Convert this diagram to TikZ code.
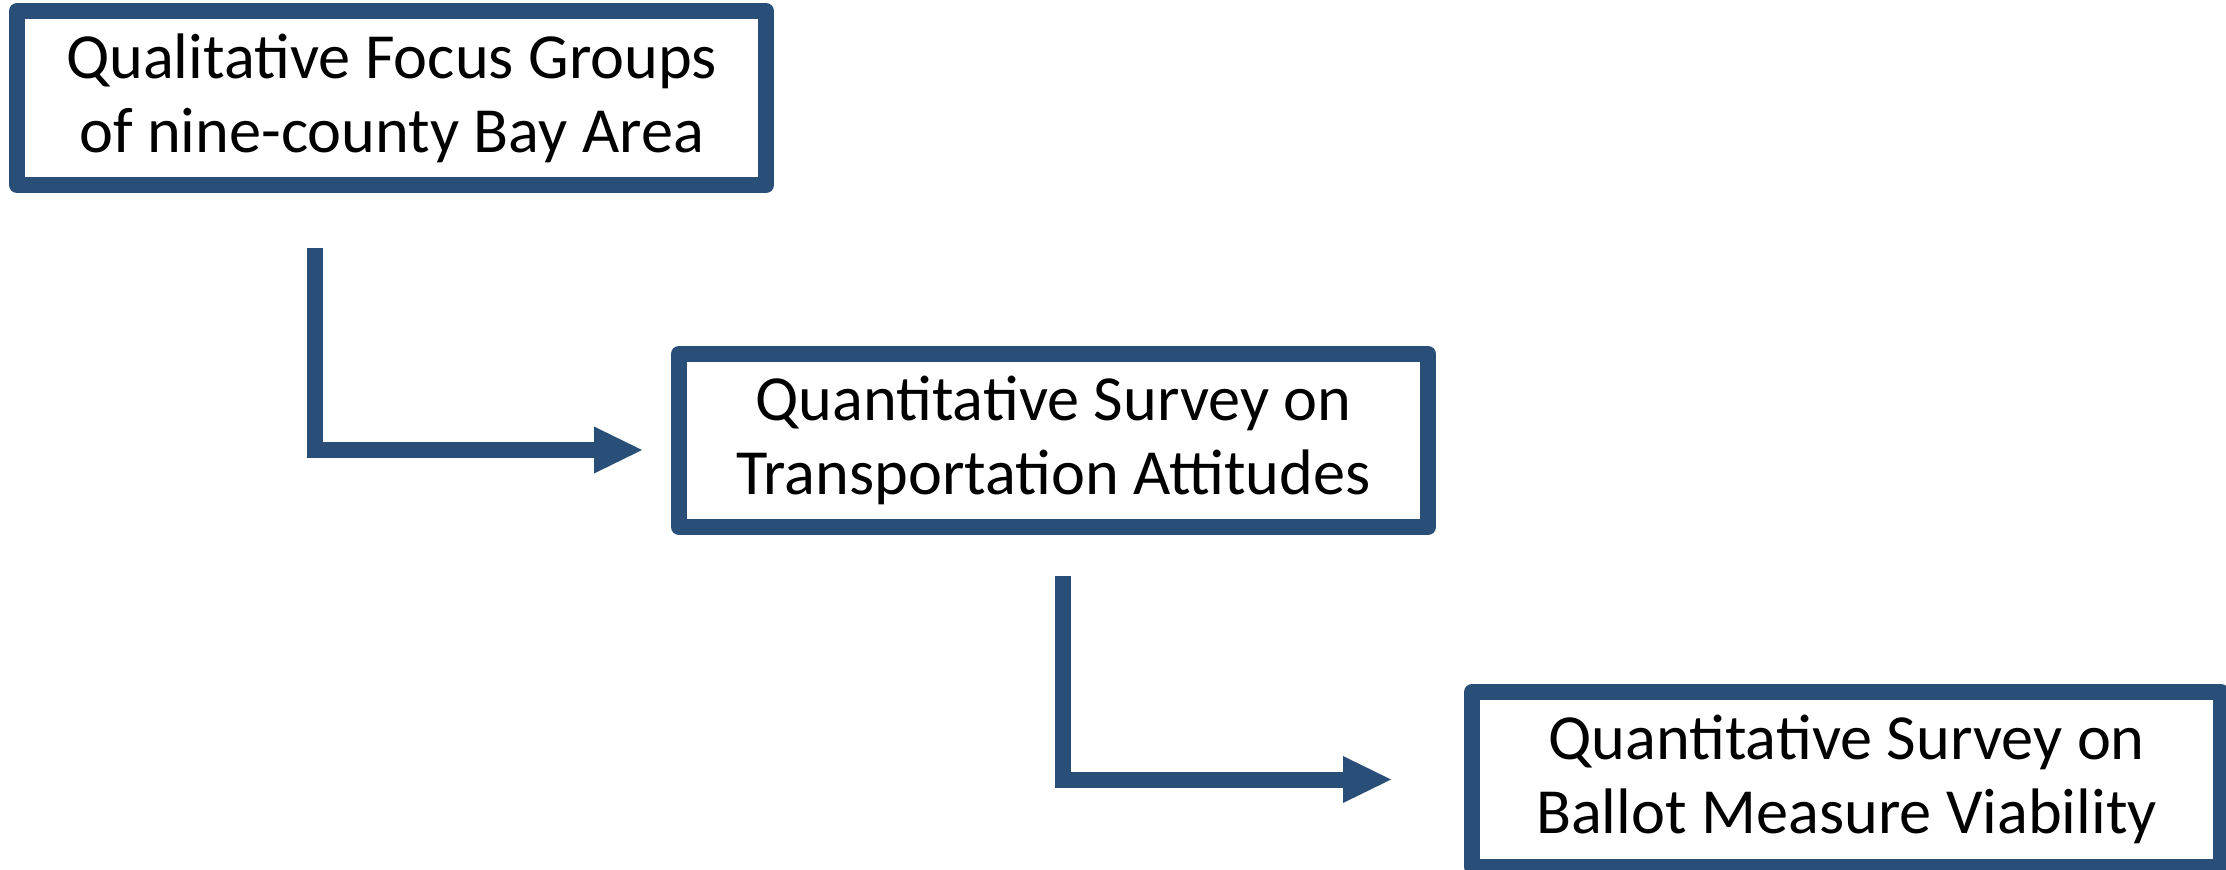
\documentclass[tikz,border=0pt]{standalone}
\usepackage{fontspec}
\setmainfont{Carlito}
\usetikzlibrary{arrows.meta}
\definecolor{boxblue}{RGB}{41,79,120}
\tikzset{
  stepbox/.style={draw=boxblue, line width=0.16cm, line join=round, fill=white,
    minimum width=7.49cm, inner sep=0pt, align=center,
    font=\fontsize{18.3}{21}\selectfont},
  conn/.style={draw=boxblue, line width=0.16cm, line join=miter, line cap=butt,
    -{Triangle[length=0.48cm, width=0.47cm, line width=0pt]}}
}
\begin{document}
\begin{tikzpicture}
\useasboundingbox (0,0) rectangle (22.26,-8.69);
\node[stepbox, minimum height=1.74cm] (b1) at (3.915,-0.98)
  {Qualitative Focus Groups\\of nine-county Bay Area};
\node[stepbox, minimum height=1.73cm] (b2) at (10.535,-4.405)
  {Quantitative Survey on\\Transportation Attitudes};
\node[stepbox, minimum height=1.75cm] (b3) at (18.465,-7.795)
  {Quantitative Survey on\\Ballot Measure Viability};
\coordinate (a1s) at (3.15,-2.48);
\coordinate (a1c) at (3.15,-4.50);
\coordinate (a1e) at (6.42,-4.50);
\coordinate (a2s) at (10.63,-5.76);
\coordinate (a2c) at (10.63,-7.795);
\coordinate (a2e) at (13.91,-7.795);
\draw[conn] (a1s) -- (a1c) -- (a1e);
\draw[conn] (a2s) -- (a2c) -- (a2e);
\end{tikzpicture}
\end{document}
